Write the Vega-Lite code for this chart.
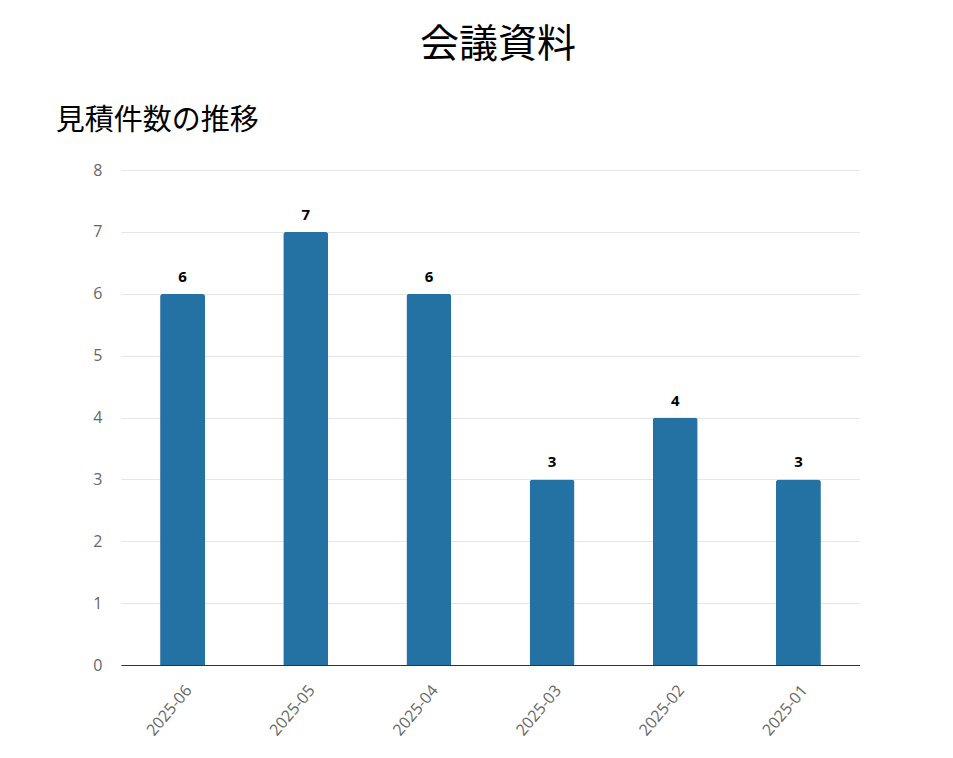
{
  "$schema": "https://vega.github.io/schema/vega-lite/v6.json",
  "background": "white",
  "padding": {"left": 55, "top": 26, "right": 0, "bottom": 0},
  "title": {
    "text": "会議資料",
    "anchor": "middle",
    "font": "Noto Sans CJK JP",
    "fontSize": 39,
    "fontWeight": "normal",
    "color": "#000000",
    "offset": 42,
    "dx": 40
  },
  "data": {
    "values": [
      {"month": "2025-06", "count": 6},
      {"month": "2025-05", "count": 7},
      {"month": "2025-04", "count": 6},
      {"month": "2025-03", "count": 3},
      {"month": "2025-02", "count": 4},
      {"month": "2025-01", "count": 3}
    ]
  },
  "vconcat": [
    {
      "title": {
        "text": "見積件数の推移",
        "anchor": "start",
        "frame": "bounds",
        "dx": -37,
        "font": "Noto Sans CJK JP",
        "fontSize": 29,
        "fontWeight": "normal",
        "color": "#000000",
        "offset": 26
      },
      "width": 739,
      "height": 495,
      "encoding": {
        "x": {
          "field": "month",
          "type": "nominal",
          "sort": null,
          "scale": {"paddingInner": 0, "paddingOuter": 0},
          "axis": {
            "title": null,
            "labelAngle": -50,
            "labelAlign": "right",
            "labelBaseline": "top",
            "labelPadding": 17,
            "labelFont": "Open Sans",
            "labelFontSize": 16,
            "labelColor": "#666666",
            "ticks": false,
            "grid": false,
            "domainColor": "#333333",
            "domainWidth": 1
          }
        },
        "y": {
          "field": "count",
          "type": "quantitative",
          "scale": {"domain": [0, 8], "nice": false},
          "axis": {
            "title": null,
            "values": [0, 1, 2, 3, 4, 5, 6, 7, 8],
            "labelFont": "Open Sans",
            "labelFontSize": 16,
            "labelColor": "#666666",
            "labelPadding": 19,
            "ticks": false,
            "domain": false,
            "gridColor": "#e6e6e6",
            "gridWidth": 1
          }
        }
      },
      "layer": [
        {
          "mark": {
            "type": "bar",
            "size": 45,
            "color": "#2472a4",
            "cornerRadiusTopLeft": 3,
            "cornerRadiusTopRight": 3
          }
        },
        {
          "mark": {
            "type": "text",
            "baseline": "bottom",
            "dy": -9,
            "font": "Open Sans",
            "fontSize": 15,
            "fontWeight": "bold",
            "color": "#000000"
          },
          "encoding": {"text": {"field": "count", "type": "quantitative"}}
        }
      ]
    }
  ],
  "config": {"view": {"stroke": null}}
}
